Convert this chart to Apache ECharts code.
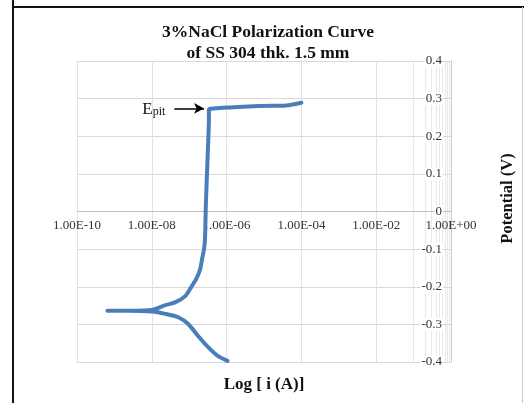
<!DOCTYPE html>
<html>
<head>
<meta charset="utf-8">
<script src="https://cdn.jsdelivr.net/npm/echarts@6/dist/echarts.min.js"></script>
<style>
  html, body { margin: 0; padding: 0; background: #fff; }
  #chart { width: 524px; height: 403px; }
</style>
</head>
<body>
<div id="chart"></div>
<script>
// ---- data ----
var currentA = [
  1.06e-6, 5.8e-7, 3.16e-7, 1.73e-7, 9.4e-8, 5.1e-8, 2.3e-8, 1.0e-8, 2.5e-9, 6.5e-10,
  2.5e-9, 1.0e-8, 2.3e-8, 4.3e-8, 7.85e-8, 1.13e-7, 1.53e-7, 1.95e-7, 2.2e-7, 2.48e-7, 2.64e-7,
  2.8e-7, 3.16e-7, 3.36e-7, 3.36e-7, 3.8e-7, 1.95e-6, 1.83e-5, 3.36e-5, 1.0e-4
];
var potentialV = [
  -0.397, -0.384, -0.360, -0.331, -0.299, -0.281, -0.272, -0.266, -0.264, -0.264,
  -0.264, -0.262, -0.249, -0.241, -0.225, -0.201, -0.180, -0.154, -0.127, -0.101, -0.074,
  0.024, 0.164, 0.244, 0.270, 0.273, 0.278, 0.281, 0.281, 0.289
];
var xTickLabels = ['1.00E-10', '1.00E-08', '1.00E-06', '1.00E-04', '1.00E-02', '1.00E+00'];
var yTickLabels = ['-0.4', '-0.3', '-0.2', '-0.1', '0', '0.1', '0.2', '0.3', '0.4'];
var epitFrom = [4.0e-8, 0.274];
var epitTo = [2.5e-7, 0.274];

// ---- build ----
var seriesData = currentA.map(function (c, i) { return [c, potentialV[i]]; });

// log-100 minor gridlines (10^(odd) * n)
var minorLines = [];
for (var k = -9; k <= -1; k += 2) {
  for (var n = 1; n <= 9; n++) {
    minorLines.push({ xAxis: n * Math.pow(10, k) });
  }
}

var serif = 'Liberation Serif';
var gridTop = 61, gridBottom = 41, chartH = 403;
var chart = echarts.init(document.getElementById('chart'), null, { renderer: 'canvas' });
chart.setOption({
  backgroundColor: '#fff',
  animation: false,
  title: [
    {
      text: '3%NaCl Polarization Curve\nof SS 304 thk. 1.5 mm',
      left: 263, top: 17, textAlign: 'center',
      textStyle: { fontFamily: serif, fontWeight: 'bold', fontSize: 17.5, lineHeight: 21, color: '#111' }
    },
    {
      text: 'Log [ i (A)]',
      left: 259, top: 371, textAlign: 'center',
      textStyle: { fontFamily: serif, fontWeight: 'bold', fontSize: 17, color: '#111' }
    }
  ],
  graphic: [
    { type: 'line', shape: { x1: 13, y1: 0, x2: 13, y2: 403 }, style: { stroke: '#111', lineWidth: 2 } },
    { type: 'line', shape: { x1: 12, y1: 7, x2: 524, y2: 7 }, style: { stroke: '#111', lineWidth: 2 } },
    { type: 'line', shape: { x1: 522.5, y1: 7, x2: 522.5, y2: 403 }, style: { stroke: '#c8c8c8', lineWidth: 1 } }
  ],
  grid: { left: 77, right: 67, top: gridTop, bottom: gridBottom, containLabel: false },
  xAxis: {
    type: 'log', logBase: 100, min: 1e-10, max: 1, z: 3,
    offset: -(chartH - gridTop - gridBottom) / 2,
    axisLine: { show: true, onZero: false, lineStyle: { color: '#bfbfbf', width: 1 } },
    axisTick: { show: false },
    axisLabel: {
      fontFamily: serif, fontSize: 13, color: '#333', margin: 8,
      formatter: function (v, idx) { return xTickLabels[idx]; }
    },
    splitLine: { show: true, lineStyle: { color: '#e2e2e2', width: 1 } },
    minorTick: { show: false }, minorSplitLine: { show: false }
  },
  yAxis: {
    type: 'value', position: 'right', min: -0.4, max: 0.4, interval: 0.1, z: 3,
    name: 'Potential (V)', nameLocation: 'middle', nameRotate: 90, nameGap: 48,
    nameTextStyle: { fontFamily: serif, fontWeight: 'bold', fontSize: 16.5, color: '#111', padding: [0, 0, 0, 26] },
    axisLine: { show: true, lineStyle: { color: '#c8c8c8', width: 1 } },
    axisTick: { show: false },
    axisLabel: {
      inside: true, fontFamily: serif, fontSize: 13, color: '#333', margin: 8,
      backgroundColor: '#fff', padding: [0, 1, 0, 1],
      formatter: function (v, idx) { return yTickLabels[idx]; }
    },
    splitLine: { show: true, lineStyle: { color: '#d9d9d9', width: 1 } }
  },
  series: [
    {
      type: 'line', data: [], silent: true, z: 1,
      markLine: {
        z: 1,
        silent: true, symbol: ['none', 'none'], animation: false,
        label: { show: false },
        lineStyle: { color: '#e8e8e8', width: 1, type: 'solid' },
        data: minorLines
      }
    },
    {
      type: 'line', data: seriesData, z: 5,
      showSymbol: false, smooth: 0.25,
      lineStyle: { color: '#4a7ebb', width: 4, cap: 'round', join: 'round' },
      markLine: {
        z: 6,
        silent: true, symbol: ['none', 'arrow'], symbolSize: [8, 10],
        lineStyle: { color: '#000', width: 1.5, type: 'solid' },
        label: {
          show: true, position: 'start', distance: 9,
          formatter: '{e|E}{s|pit}',
          rich: {
            e: { fontFamily: serif, fontSize: 17, color: '#111', verticalAlign: 'bottom' },
            s: { fontFamily: serif, fontSize: 12, color: '#111', padding: [7, 0, 0, 0] }
          }
        },
        data: [[{ coord: epitFrom }, { coord: epitTo }]]
      }
    }
  ]
});
</script>
</body>
</html>
